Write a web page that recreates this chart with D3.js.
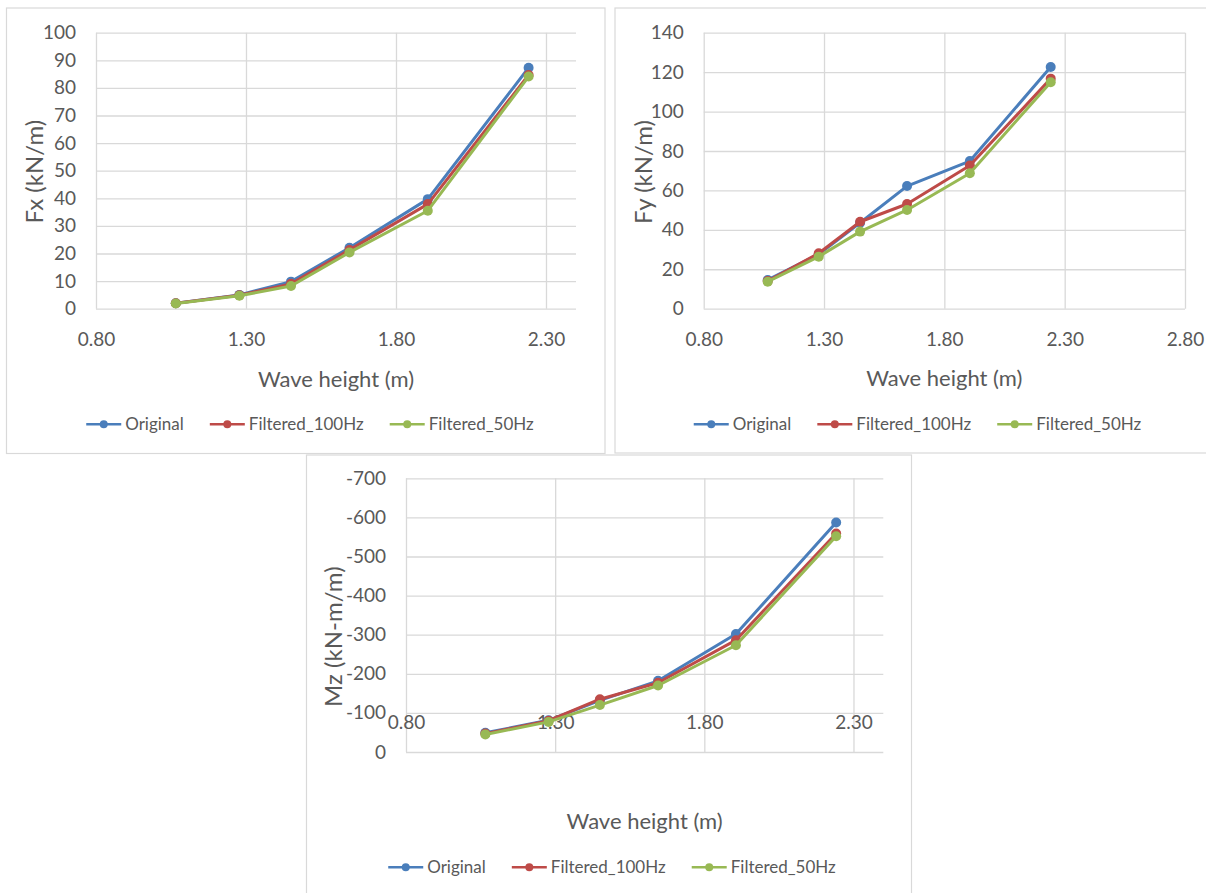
<!DOCTYPE html>
<html>
<head>
<meta charset="utf-8">
<script src="https://cdn.jsdelivr.net/npm/d3@7"></script>
<style>
  html, body { margin: 0; padding: 0; background: #ffffff; }
  svg { display: block; font-family: Lato, "Open Sans", "Noto Sans", sans-serif; }
</style>
</head>
<body>
<svg id="fig" width="1206" height="893"></svg>
<script>
// Wave heights (m) at which the loads were evaluated
const waveHeight = [1.066, 1.278, 1.450, 1.645, 1.906, 2.242];

const seriesNames = ["Original", "Filtered_100Hz", "Filtered_50Hz"];
const seriesColors = ["#4A7EBB", "#BE4B48", "#98B954"];

// Horizontal force Fx (kN/m)
const fxOriginal    = [2.0, 5.0, 9.8, 22.1, 39.7, 87.3];
const fxFiltered100 = [2.0, 4.9, 9.0, 21.3, 37.9, 84.7];
const fxFiltered50  = [1.9, 4.7, 8.2, 20.4, 35.5, 84.1];

// Vertical force Fy (kN/m)
const fyOriginal    = [14.6, 27.6, 43.6, 62.2, 74.9, 122.6];
const fyFiltered100 = [14.0, 28.1, 44.1, 53.1, 72.6, 116.7];
const fyFiltered50  = [13.7, 26.4, 39.1, 50.1, 68.7, 114.9];

// Overturning moment Mz (kN-m/m)
const mzOriginal    = [-49, -81, -132, -182, -302, -587];
const mzFiltered100 = [-47, -80, -135, -177, -286, -559];
const mzFiltered50  = [-45, -77, -120, -170, -273, -552];

// Axis ticks
const xTicksShort = [0.8, 1.3, 1.8, 2.3];
const xTicksLong  = [0.8, 1.3, 1.8, 2.3, 2.8];
const fxTicks = [0, 10, 20, 30, 40, 50, 60, 70, 80, 90, 100];
const fyTicks = [0, 20, 40, 60, 80, 100, 120, 140];
const mzTicks = [0, -100, -200, -300, -400, -500, -600, -700];

const xTitle = "Wave height (m)";
const textColor = "#595959";
const gridColor = "#d9d9d9";

const svg = d3.select("#fig");

function stripAxis(sel) {
  sel.attr("font-size", null).attr("font-family", null);
  sel.select(".domain").remove();
}

function drawPanel(cfg) {
  const g = svg.append("g");
  const p = cfg.plot;

  // chart frame
  g.append("rect")
    .attr("x", cfg.frame[0]).attr("y", cfg.frame[1])
    .attr("width", cfg.frame[2]).attr("height", cfg.frame[3])
    .attr("fill", "#ffffff").attr("stroke", gridColor).attr("stroke-width", 1.2);

  const x = d3.scaleLinear().domain(cfg.xDomain).range([p.left, p.right]);
  const y = d3.scaleLinear().domain(cfg.yDomain).range([p.bottom, p.top]);

  // horizontal gridlines
  g.append("g")
    .attr("transform", `translate(${p.left},0)`)
    .call(d3.axisLeft(y).tickValues(cfg.yTicks).tickSize(-(p.right - p.left)).tickFormat(""))
    .call(stripAxis)
    .selectAll("line").attr("stroke", gridColor).attr("stroke-width", 1.3);

  // vertical gridlines
  g.append("g")
    .attr("transform", `translate(0,${p.bottom})`)
    .call(d3.axisBottom(x).tickValues(cfg.xTicks).tickSize(-(p.bottom - p.top)).tickFormat(""))
    .call(stripAxis)
    .selectAll("line").attr("stroke", gridColor).attr("stroke-width", 1.3);

  // y tick labels
  g.append("g")
    .attr("transform", `translate(${p.left},0)`)
    .call(d3.axisLeft(y).tickValues(cfg.yTicks).tickSize(0).tickPadding(20).tickFormat(d => String(d)))
    .call(stripAxis)
    .selectAll("text")
    .attr("fill", textColor).style("font-size", "19px");

  // x tick labels
  g.append("g")
    .attr("transform", `translate(0,${cfg.xLabelY})`)
    .call(d3.axisBottom(x).tickValues(cfg.xTicks).tickSize(0).tickFormat(d => d.toFixed(2)))
    .call(stripAxis)
    .selectAll("text")
    .attr("y", 0).attr("dy", "0.35em")
    .attr("fill", textColor).style("font-size", "19px");

  // axis titles
  g.append("text")
    .attr("x", (p.left + p.right) / 2).attr("y", cfg.xTitleY)
    .attr("text-anchor", "middle").attr("dy", "0.35em")
    .attr("fill", textColor).style("font-size", "22px")
    .text(xTitle);

  g.append("text")
    .attr("transform", `translate(${cfg.yTitlePos[0]},${cfg.yTitlePos[1]}) rotate(-90)`)
    .attr("text-anchor", "middle").attr("dy", "0.35em")
    .attr("fill", textColor).style("font-size", "24px")
    .text(cfg.yTitle);

  // series: line then markers, in series order
  const line = d3.line()
    .x((d, i) => x(waveHeight[i]))
    .y(d => y(d));

  cfg.series.forEach((vals, k) => {
    const sg = g.append("g");
    sg.append("path")
      .datum(vals)
      .attr("d", line)
      .attr("fill", "none")
      .attr("stroke", seriesColors[k])
      .attr("stroke-width", 3)
      .attr("stroke-linejoin", "round")
      .attr("stroke-linecap", "round");
    sg.selectAll("circle")
      .data(vals)
      .join("circle")
      .attr("cx", (d, i) => x(waveHeight[i]))
      .attr("cy", d => y(d))
      .attr("r", 5)
      .attr("fill", seriesColors[k]);
  });

  // legend, laid out left to right and centred under the chart
  const lg = g.append("g");
  let cursor = 0;
  seriesNames.forEach((name, k) => {
    const item = lg.append("g").attr("transform", `translate(${cursor},0)`);
    item.append("line")
      .attr("x1", 0).attr("x2", 35).attr("y1", 0).attr("y2", 0)
      .attr("stroke", seriesColors[k]).attr("stroke-width", 2.5);
    item.append("circle")
      .attr("cx", 17.5).attr("cy", 0).attr("r", 4)
      .attr("fill", seriesColors[k]);
    const t = item.append("text")
      .attr("x", 39).attr("y", 0).attr("dy", "0.35em")
      .attr("fill", textColor).style("font-size", "17px")
      .text(name);
    cursor += 39 + t.node().getComputedTextLength() + 26;
  });
  const legendWidth = cursor - 26;
  lg.attr("transform", `translate(${cfg.legendCenterX - legendWidth / 2},${cfg.legendY})`);
}

drawPanel({
  frame: [6.5, 8, 598.5, 445.5],
  plot: { left: 96, right: 576, top: 32.7, bottom: 308.7 },
  xDomain: [0.8, 2.4], xTicks: xTicksShort,
  yDomain: [0, 100], yTicks: fxTicks,
  yTitle: "Fx (kN/m)", yTitlePos: [35, 171.7],
  xLabelY: 339, xTitleY: 379,
  legendY: 424.3, legendCenterX: 310,
  series: [fxOriginal, fxFiltered100, fxFiltered50]
});

drawPanel({
  frame: [615, 8, 620, 445],
  plot: { left: 703.7, right: 1185, top: 32.7, bottom: 308.7 },
  xDomain: [0.8, 2.8], xTicks: xTicksLong,
  yDomain: [0, 140], yTicks: fyTicks,
  yTitle: "Fy (kN/m)", yTitlePos: [643.7, 172],
  xLabelY: 339, xTitleY: 378.3,
  legendY: 424.3, legendCenterX: 917.5,
  series: [fyOriginal, fyFiltered100, fyFiltered50]
});

drawPanel({
  frame: [306.5, 455, 605, 460],
  plot: { left: 406, right: 883.3, top: 478.3, bottom: 752 },
  xDomain: [0.8, 2.4], xTicks: xTicksShort,
  yDomain: [0, -700], yTicks: mzTicks,
  yTitle: "Mz (kN-m/m)", yTitlePos: [333.3, 636.7],
  xLabelY: 722.7, xTitleY: 821.7,
  legendY: 867.3, legendCenterX: 612,
  series: [mzOriginal, mzFiltered100, mzFiltered50]
});
</script>
</body>
</html>
